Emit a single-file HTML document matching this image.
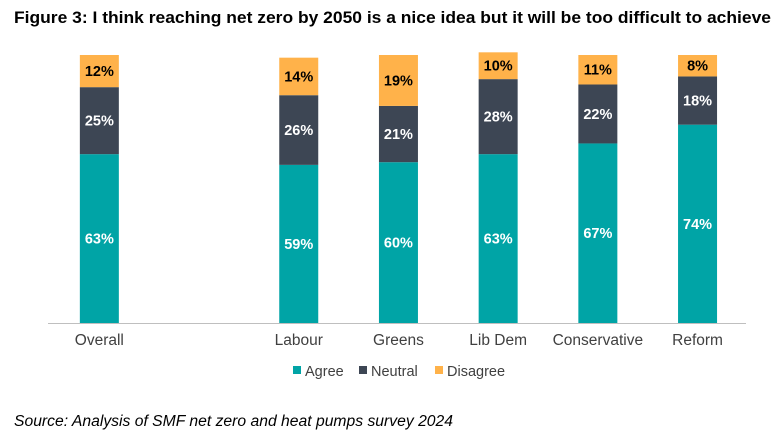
<!DOCTYPE html>
<html><head><meta charset="utf-8"><style>
body{margin:0;background:#fff;font-family:"Liberation Sans",Arial,sans-serif;}
svg{display:block}
</style></head><body>
<svg id="chart" width="784" height="432">
<text x="14" y="23" font-size="16.5" font-weight="bold" fill="#000" textLength="757" lengthAdjust="spacingAndGlyphs">Figure 3: I think reaching net zero by 2050 is a nice idea but it will be too difficult to achieve</text>
<line x1="48" y1="323.5" x2="746" y2="323.5" stroke="#bfbfbf" stroke-width="1"/>
<g id="bars"></g>
<g id="xlabels"></g>
<g>
<rect x="293" y="366" width="8" height="8" fill="#00a4a6"/>
<text x="305" y="376" font-size="14.5" fill="#404040">Agree</text>
<rect x="359" y="366" width="8" height="8" fill="#3d4654"/>
<text x="371" y="376" font-size="14.5" fill="#404040">Neutral</text>
<rect x="435" y="366" width="8" height="8" fill="#ffb24a"/>
<text x="447" y="376" font-size="14.5" fill="#404040">Disagree</text>
</g>
<text x="14" y="426" font-size="15.5" font-style="italic" fill="#000" textLength="439" lengthAdjust="spacingAndGlyphs">Source: Analysis of SMF net zero and heat pumps survey 2024</text>
</svg>
<script>
const categories = ["Overall", "", "Labour", "Greens", "Lib Dem", "Conservative", "Reform"];
const agree = [63, null, 59, 60, 63, 67, 74];
const neutral = [25, null, 26, 21, 28, 22, 18];
const disagree = [12, null, 14, 19, 10, 11, 8];
const NS = "http://www.w3.org/2000/svg";
const x0 = 49.5, slot = 99.7, barW = 39, yBase = 323, yScale = 2.68;
function xCenter(i){ return x0 + slot * i + slot / 2; }
function yPos(v){ return yBase - v * yScale; }
const bars = document.getElementById("bars");
const xl = document.getElementById("xlabels");
const series = [[agree, "#00a4a6", "agree"], [neutral, "#3d4654", "neutral"], [disagree, "#ffb24a", "disagree"]];
categories.forEach((c, i) => {
  if (agree[i] == null) return;
  let cum = 0;
  series.forEach(([arr, col, nm]) => {
    const v = arr[i];
    const r = document.createElementNS(NS, "rect");
    r.setAttribute("x", xCenter(i) - barW / 2);
    r.setAttribute("y", yPos(cum + v));
    r.setAttribute("width", barW);
    r.setAttribute("height", v * yScale);
    r.setAttribute("fill", col);
    
    
    bars.appendChild(r);
    const t = document.createElementNS(NS, "text");
    t.setAttribute("x", xCenter(i));
    t.setAttribute("y", yPos(cum + v / 2) + 5);
    t.setAttribute("text-anchor", "middle");
    t.setAttribute("font-size", "14.5");
    t.setAttribute("font-weight", "bold");
    t.setAttribute("fill", nm === "disagree" ? "#000" : "#fff");
    t.textContent = v + "%";
    
    
    bars.appendChild(t);
    cum += v;
  });
  const lt = document.createElementNS(NS, "text");
  lt.setAttribute("x", xCenter(i));
  lt.setAttribute("y", 345);
  lt.setAttribute("text-anchor", "middle");
  lt.setAttribute("font-size", "15.5");
  lt.setAttribute("fill", "#404040");
  lt.textContent = c;
  
  
  xl.appendChild(lt);
});
</script>
</body></html>
